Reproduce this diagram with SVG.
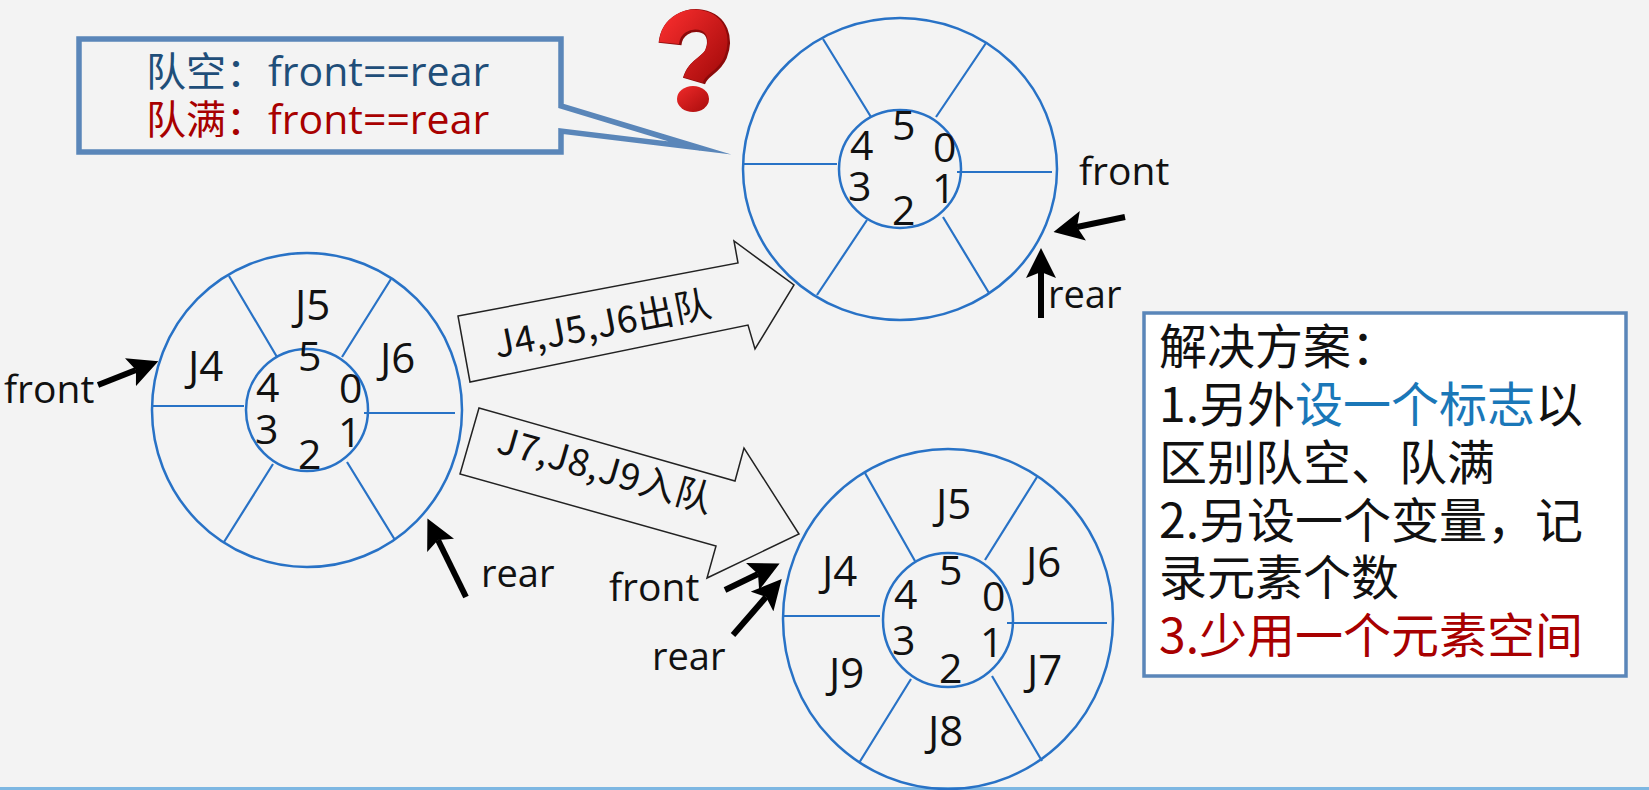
<svg xmlns="http://www.w3.org/2000/svg" width="1649" height="790" viewBox="0 0 1649 790">
<style>
text{font-family:"Open Sans","Noto Sans CJK SC",sans-serif;fill:#111}
.ring{fill:none;stroke:#2872c6;stroke-width:2.5}
.spoke{fill:none;stroke:#2872c6;stroke-width:2.2}
.d{font-size:41px}
.j{font-size:42px}
.l{font-size:39px}
.c{font-size:41px}
.blk{fill:none;stroke:#222;stroke-width:1.5}
.arr{fill:none;stroke:#000;stroke-width:6;marker-end:url(#head)}
.cn{font-family:"Noto Sans CJK SC","Open Sans",sans-serif}
.s{font-size:48px;font-family:"Noto Sans CJK SC","Open Sans",sans-serif}
</style>
<defs>
<marker id="head" markerUnits="userSpaceOnUse" viewBox="0 0 30 30" markerWidth="30" markerHeight="30" refX="6" refY="15" orient="auto"><path d="M0,0 L30,15 L0,30 L6,15 Z" fill="#000"/></marker>
<linearGradient id="q" x1="0" y1="0" x2="1" y2="1"><stop offset="0" stop-color="#f02a2a"/><stop offset="1" stop-color="#a80c0c"/></linearGradient>
</defs>
<rect width="1649" height="790" fill="#f3f3f3"/>
<rect x="0" y="787" width="1649" height="3" fill="#7db7e2"/>

<g id="callout">
<path d="M79,39 H561 V106 L700,148 L561,131 V152 H79 Z" fill="#f3f3f3" stroke="#5a86b9" stroke-width="5.5" stroke-miterlimit="12"/>
<text class="l cn" x="146" y="86" style="fill:#1f4e79;font-size:40px">队空：</text>
<text class="c" x="268" y="86" style="fill:#1f4e79">front==rear</text>
<text class="l cn" x="146" y="134" style="fill:#a80000;font-size:40px">队满：</text>
<text class="c" x="268" y="134" style="fill:#a80000">front==rear</text>
</g>

<g id="question-mark">
<path d="M669,43 C671,24 688,18 700,20 C716,23 721,38 715,53 C710,65 697,66 693,80" fill="none" stroke="#8c0a0a" stroke-width="23" transform="translate(1,1)"/>
<path d="M669,43 C671,24 688,18 700,20 C716,23 721,38 715,53 C710,65 697,66 693,80" fill="none" stroke="url(#q)" stroke-width="20"/>
<ellipse cx="693" cy="99" rx="16" ry="13" fill="url(#q)"/>
</g>

<g id="queue-top">
<ellipse class="ring" cx="900" cy="169" rx="157" ry="151"/>
<ellipse class="ring" cx="900" cy="169" rx="61" ry="59"/>
<path class="spoke" d="M823,39 L871,117 M986,43 L936,117 M743,164 H837 M957,172 H1052 M867,220 L817,295 M943,217 L989,293"/>
<text class="d" x="892" y="140">5</text><text class="d" x="850" y="160">4</text><text class="d" x="933" y="162">0</text><text class="d" x="848" y="201">3</text><text class="d" x="932" y="203">1</text><text class="d" x="892" y="225">2</text>
</g>

<g id="queue-left">
<ellipse class="ring" cx="307" cy="410" rx="155" ry="157"/>
<ellipse class="ring" cx="307" cy="410" rx="61" ry="61"/>
<path class="spoke" d="M229,276 L277,357 M391,279 L342,357 M152,406 H244 M364,413 H455 M273,464 L224,542 M347,462 L395,540"/>
<text class="j" x="295" y="320">J5</text><text class="j" x="188" y="381">J4</text><text class="j" x="380" y="373">J6</text>
<text class="d" x="298" y="371">5</text><text class="d" x="256" y="402">4</text><text class="d" x="339" y="403">0</text><text class="d" x="255" y="444">3</text><text class="d" x="338" y="447">1</text><text class="d" x="298" y="469">2</text>
</g>

<g id="queue-bottom">
<ellipse class="ring" cx="948" cy="619" rx="165" ry="170"/>
<ellipse class="ring" cx="948" cy="620" rx="65" ry="67"/>
<path class="spoke" d="M865,473 L915,561 M1037,477 L985,560 M782,616 H880 M1007,623 H1107 M911,679 L859,763 M992,676 L1042,761"/>
<text class="j" x="936" y="519">J5</text><text class="j" x="822" y="586">J4</text><text class="j" x="1026" y="577">J6</text><text class="j" x="829" y="688">J9</text><text class="j" x="1027" y="685">J7</text><text class="j" x="928" y="746">J8</text>
<text class="d" x="939" y="585">5</text><text class="d" x="894" y="609">4</text><text class="d" x="982" y="611">0</text><text class="d" x="892" y="655">3</text><text class="d" x="980" y="657">1</text><text class="d" x="939" y="683">2</text>
</g>

<g id="connectors">
<path class="blk" d="M458,316 L738,263 L734,241 L794,285 L755,349 L748,325 L470,382 Z"/>
<path class="blk" d="M479,408 L735,481 L744,448 L799,534 L707,578 L716,546 L460,474 Z"/>
<path class="arr" d="M98,385 L136,370"/>
<path class="arr" d="M466,597 L438,540"/>
<path class="arr" d="M1125,217 L1077,227"/>
<path class="arr" d="M1041,318 V272"/>
<path class="arr" d="M725,590 L758,574"/>
<path class="arr" d="M733,635 L766,597"/>
</g>

<g id="labels">
<text class="cn" transform="translate(497,358) rotate(-11)" style="font-size:37px" textLength="220">J4,J5,J6出队</text>
<text class="cn" transform="translate(495,452) rotate(16)" style="font-size:37px" textLength="222">J7,J8,J9入队</text>
<text class="l" x="4" y="403">front</text>
<text class="l" x="481" y="587" style="font-size:38px">rear</text>
<text class="l" x="1079" y="185">front</text>
<text class="l" x="1048" y="308" style="font-size:38px">rear</text>
<text class="l" x="609" y="601">front</text>
<text class="l" x="652" y="670" style="font-size:38px">rear</text>
</g>

<g id="solution">
<rect x="1144" y="313" width="482" height="363" fill="#fff" stroke="#5a86b9" stroke-width="3.5"/>
<text class="s" x="1159" y="364">解决方案：</text>
<text class="s" x="1159" y="422">1.另外<tspan style="fill:#1a77b8">设一个标志</tspan>以</text>
<text class="s" x="1159" y="480">区别队空、队满</text>
<text class="s" x="1159" y="538">2.另设一个变量，记</text>
<text class="s" x="1159" y="595">录元素个数</text>
<text class="s" x="1159" y="653" style="fill:#a80000">3.少用一个元素空间</text>
</g>
</svg>
